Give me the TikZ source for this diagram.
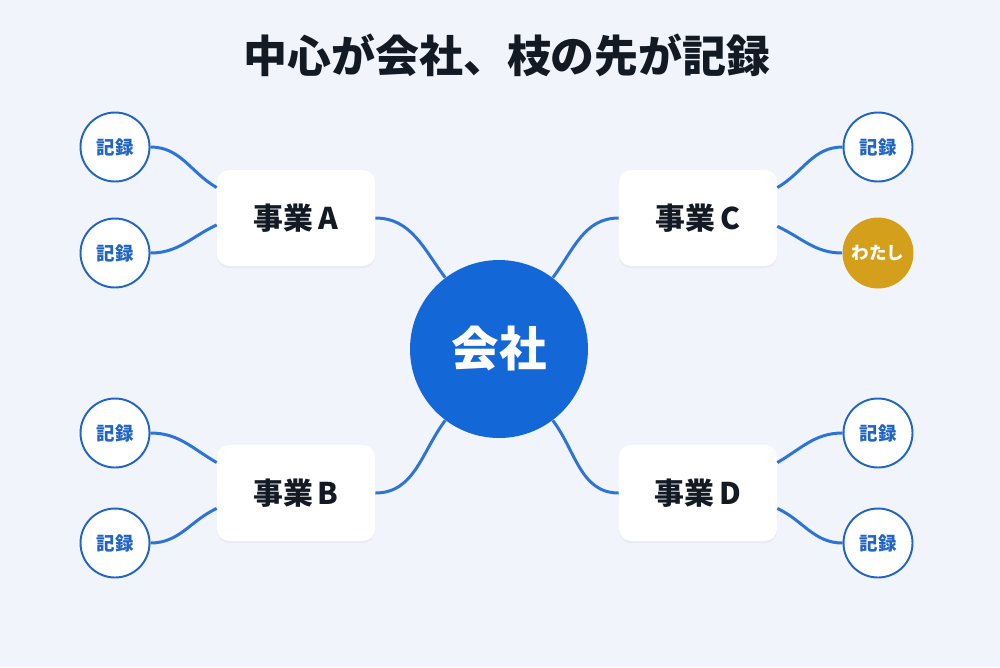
\documentclass[tikz,border=0pt]{standalone}
\usepackage{fontspec}
\setmainfont{Noto Sans CJK JP}
\usetikzlibrary{shadows}
\definecolor{bgc}{HTML}{F1F5FB}
\definecolor{corp}{HTML}{1467D6}
\definecolor{branch}{HTML}{2C74D8}
\definecolor{recblue}{HTML}{2064C4}
\definecolor{me}{HTML}{D4A01C}
\definecolor{ink}{HTML}{141A24}

\begin{document}
\begin{tikzpicture}[x=0.02cm, y=-0.02cm,
    unitbox/.style={fill=white, rounded corners=0.24cm, minimum width=3.16cm, minimum height=1.92cm,
      font=\bfseries\fontsize{17}{19}\selectfont, text=ink,
      drop shadow={shadow xshift=0pt, shadow yshift=-1.2pt, opacity=0.08}},
    rec/.style={circle, draw=recblue, line width=1.1pt, fill=white, minimum size=1.38cm, inner sep=0pt,
      font=\bfseries\fontsize{10.5}{12}\selectfont, text=recblue},
    mine/.style={circle, fill=me, minimum size=1.42cm, inner sep=0pt,
      font=\bfseries\fontsize{10}{12}\selectfont, text=white},
    link/.style={draw=branch, line width=1.7pt}]
  \fill[bgc] (0,0) rectangle (1000,667);
  \node[font=\bfseries\fontsize{25}{28}\selectfont, text=ink] (title) at (507,55) {中心が会社、枝の先が記録};

  \node[circle, fill=corp, minimum size=3.56cm, inner sep=0pt, text=white,
    font=\bfseries\fontsize{27}{30}\selectfont] (corp) at (499,349) {会社};

  \node[unitbox] (A) at (296,218) {事業\,A};
  \node[unitbox] (B) at (296,493) {事業\,B};
  \node[unitbox] (C) at (698,218) {事業\,C};
  \node[unitbox] (D) at (698,493) {事業\,D};

  \node[rec] (a1) at (115,147) {記録};
  \node[rec] (a2) at (115,253) {記録};
  \node[rec] (b1) at (115,433) {記録};
  \node[rec] (b2) at (115,543) {記録};
  \node[rec] (c1) at (878,147) {記録};
  \node[mine] (me) at (878,253) {わたし};
  \node[rec] (d1) at (878,433) {記録};
  \node[rec] (d2) at (878,543) {記録};

  \draw[link] (A.east) to[out=0, in=127] (corp.127);
  \draw[link] (C.west) to[out=180, in=53] (corp.53);
  \draw[link] (B.east) to[out=0, in=233] (corp.233);
  \draw[link] (D.west) to[out=180, in=307] (corp.307);

  \draw[link] (a1.east) to[out=0, in=150] (A.159);
  \draw[link] (a2.east) to[out=0, in=205] (A.185);
  \draw[link] (b1.east) to[out=0, in=150] (B.159);
  \draw[link] (b2.east) to[out=0, in=205] (B.191);
  \draw[link] (c1.west) to[out=180, in=30] (C.21);
  \draw[link] (me.west) to[out=180, in=335] (C.354);
  \draw[link] (d1.west) to[out=180, in=30] (D.21);
  \draw[link] (d2.west) to[out=180, in=335] (D.349);
\end{tikzpicture}
\end{document}
